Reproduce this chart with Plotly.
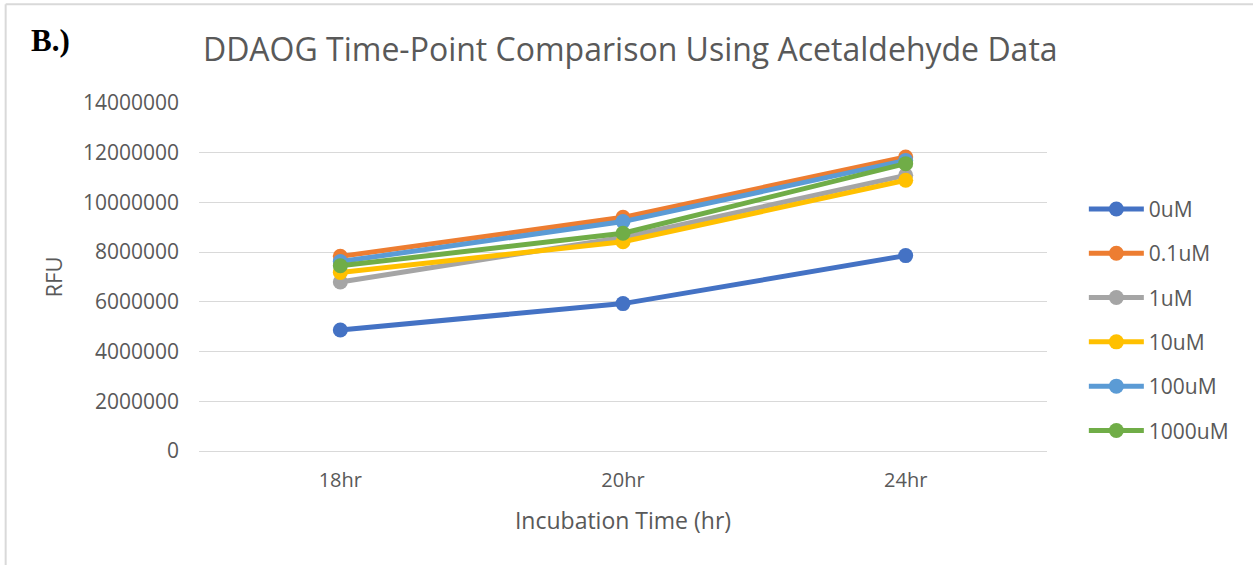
import plotly.graph_objects as go

# Incubation time points
time_points = ["18hr", "20hr", "24hr"]

# RFU readings per acetaldehyde concentration
rfu_0uM = [4870000, 5930000, 7860000]
rfu_0_1uM = [7830000, 9400000, 11830000]
rfu_1uM = [6800000, 8590000, 11090000]
rfu_10uM = [7180000, 8420000, 10890000]
rfu_100uM = [7620000, 9230000, 11690000]
rfu_1000uM = [7450000, 8760000, 11560000]

series_names = ["0uM", "0.1uM", "1uM", "10uM", "100uM", "1000uM"]
series_values = [rfu_0uM, rfu_0_1uM, rfu_1uM, rfu_10uM, rfu_100uM, rfu_1000uM]
series_colors = ["#4472C4", "#ED7D31", "#A5A5A5", "#FFC000", "#5B9BD5", "#70AD47"]

y_ticks = [0, 2000000, 4000000, 6000000, 8000000, 10000000, 12000000, 14000000]

FONT = "Open Sans"
TEXT_GRAY = "#595959"

fig = go.Figure()
for i, (name, vals, col) in enumerate(zip(series_names, series_values, series_colors)):
    fig.add_trace(go.Scatter(
        x=time_points, y=vals, name=name, mode="lines+markers",
        line=dict(color=col, width=5),
        marker=dict(color=col, size=15),
        legendgroup=f"g{i}",
    ))

fig.update_layout(
    width=1253, height=565,
    paper_bgcolor="white", plot_bgcolor="white",
    margin=dict(l=199, r=206, t=103, b=114),
    font=dict(family=FONT, color=TEXT_GRAY),
    title=dict(
        text="DDAOG Time-Point Comparison Using Acetaldehyde Data",
        x=0.503, xanchor="center", y=0.912, yanchor="middle",
        font=dict(family=FONT, size=32, color=TEXT_GRAY),
    ),
    xaxis=dict(
        type="category", range=[-0.5, 2.5],
        showgrid=False, showline=False, zeroline=False,
        ticks="", ticklabelstandoff=15,
        tickfont=dict(size=20, color=TEXT_GRAY),
        title=dict(text="Incubation Time (hr)", font=dict(size=23, color=TEXT_GRAY), standoff=20),
    ),
    yaxis=dict(
        range=[0, 14000000], tickvals=y_ticks, tickformat="d",
        showgrid=True, gridcolor="#D9D9D9", gridwidth=1,
        zeroline=True, zerolinecolor="#D9D9D9", zerolinewidth=1,
        showline=False, ticks="", ticklen=0, ticklabelstandoff=19,
        tickfont=dict(size=21, color=TEXT_GRAY),
        title=dict(text="RFU", font=dict(size=22, color=TEXT_GRAY), standoff=14),
    ),
    legend=dict(
        x=0.865, xanchor="left", y=0.434, yanchor="middle",
        xref="container", yref="container",
        font=dict(size=21, color=TEXT_GRAY),
        itemwidth=55, tracegroupgap=14,
        bgcolor="rgba(0,0,0,0)",
    ),
    showlegend=True,
)

# Panel label
fig.add_annotation(
    text="<b>B.)</b>", xref="paper", yref="paper",
    x=-0.2, y=1.181, xanchor="left", yanchor="middle", showarrow=False,
    font=dict(family="Liberation Serif", size=31, color="black"),
)

# Frame edges along the top and left
fig.add_shape(type="line", xref="paper", yref="paper",
              x0=-0.228, x1=1.3, y0=1.284, y1=1.284,
              line=dict(color="#D9D9D9", width=2))
fig.add_shape(type="line", xref="paper", yref="paper",
              x0=-0.228, x1=-0.228, y0=1.284, y1=-0.4,
              line=dict(color="#D9D9D9", width=2))

fig.write_html("out.html")
